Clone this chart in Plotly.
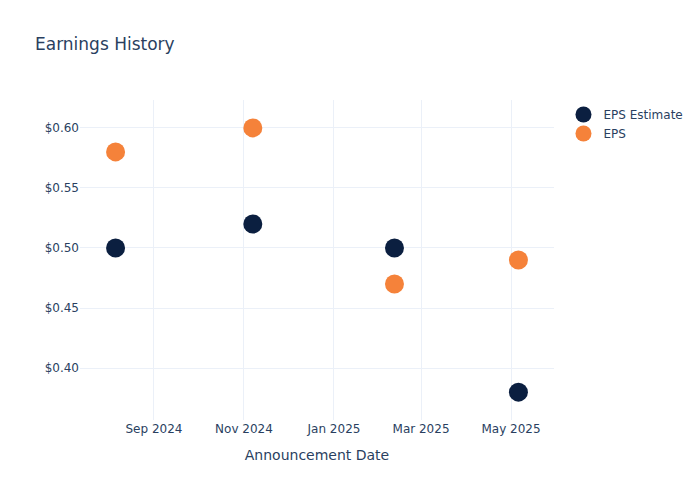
import plotly.graph_objects as go

dates = ["2024-08-06", "2024-11-07", "2025-02-11", "2025-05-06"]
eps_estimate = [0.50, 0.52, 0.50, 0.38]
eps_actual = [0.58, 0.60, 0.47, 0.49]

fig = go.Figure()
fig.add_trace(go.Scatter(x=dates, y=eps_estimate, mode="markers", name="EPS Estimate",
                         marker=dict(size=19, color="#0b1f40")))
fig.add_trace(go.Scatter(x=dates, y=eps_actual, mode="markers", name="EPS",
                         marker=dict(size=19, color="#f5823a")))
fig.update_layout(
    template="plotly_white",
    width=700, height=500,
    font=dict(family="DejaVu Sans"),
    title=dict(text="Earnings History"),
    xaxis=dict(title=dict(text="Announcement Date")),
    yaxis=dict(tickprefix="$", tickformat=".2f"),
)
fig.write_html("out.html", config={"displayModeBar": False},
               post_script="document.body.style.margin='0';")
